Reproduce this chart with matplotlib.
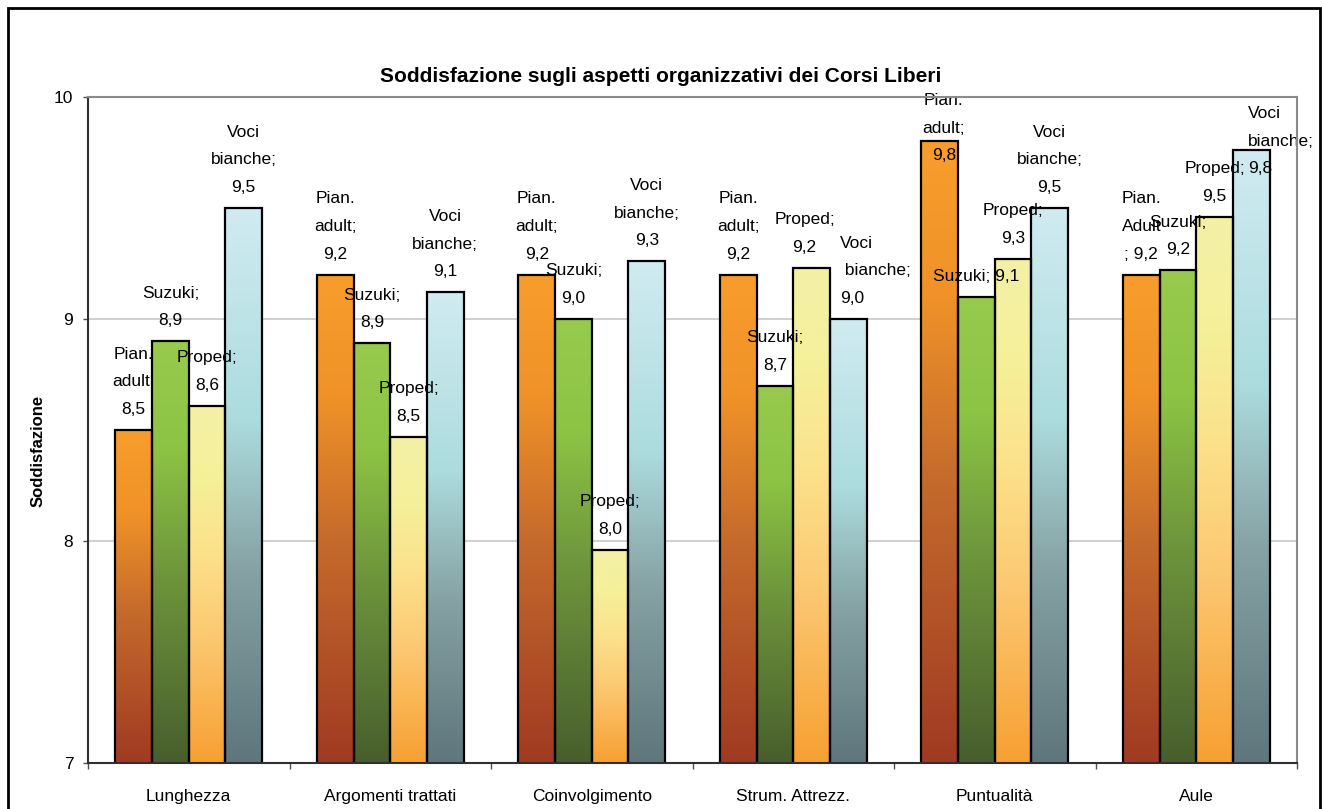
import matplotlib
matplotlib.use("Agg")
import matplotlib.pyplot as plt
import numpy as np
from matplotlib.colors import LinearSegmentedColormap
from matplotlib.patches import Rectangle

plt.rcParams['font.family'] = ['Liberation Sans', 'DejaVu Sans']

# ---------------- data ----------------
categories = ["Lunghezza", "Argomenti trattati", "Coinvolgimento",
              "Strum. Attrezz.", "Puntualità", "Aule"]
series_names = ["Pian. adult", "Suzuki", "Proped", "Voci bianche"]
pian_adult = [8.50, 9.20, 9.20, 9.20, 9.80, 9.20]
suzuki = [8.90, 8.89, 9.00, 8.70, 9.10, 9.22]
proped = [8.61, 8.47, 7.96, 9.23, 9.27, 9.46]
voci_bianche = [9.50, 9.12, 9.26, 9.00, 9.50, 9.76]
y_ticks = [7, 8, 9, 10]
title = "Soddisfazione sugli aspetti organizzativi dei Corsi Liberi"
y_label = "Soddisfazione"

# label prefixes (as wrapped in the original)
label_prefix = ["Pian.\nadult;\n", "Suzuki;\n", "Proped;\n", "Voci\nbianche;\n"]
label_prefix_override = {(0, 5): "Pian.\nAdult\n; ",
                         (1, 4): "Suzuki; ",
                         (3, 3): "Voci\n bianche;\n"}

# ---------------- style ----------------
grad_stops = [
    [(0.0, "#A03A22"), (0.45, "#C46A2C"), (0.75, "#F09228"), (1.0, "#F89D2D")],
    [(0.0, "#485E2D"), (0.45, "#6E963C"), (0.75, "#8DC444"), (1.0, "#97CA4D")],
    [(0.0, "#F7A032"), (0.35, "#FCC872"), (0.6, "#FCE28C"), (0.8, "#F5F09A"), (1.0, "#F3F0A6")],
    [(0.0, "#5E767C"), (0.35, "#86A2A4"), (0.62, "#ACDCDE"), (1.0, "#D0EBF1")],
]
# label offsets in pixels (dx, dy) relative to default, and alignment
label_adjust = {(0, 4): (4, -35, 'center'),
                (2, 3): (-7, 0, 'center'),
                (3, 3): (-8, 0, 'left'),
                (3, 5): (-3.5, -39, 'left')}

W, H = 1322, 809
fig = plt.figure(figsize=(W / 100, H / 100), dpi=100)
ax = fig.add_axes([88 / W, (H - 763) / H, (1297 - 88) / W, (763 - 97) / H])

data = [pian_adult, suzuki, proped, voci_bianche]
n_ser = len(data)
bw = 1 / (n_ser + 1.5)
x = np.arange(len(categories))

for i, vals in enumerate(data):
    xs = x + (i - (n_ser - 1) / 2) * bw
    bars = ax.bar(xs, vals, width=bw, facecolor='none', edgecolor='black',
                  linewidth=1.6, zorder=4)
    cmap = LinearSegmentedColormap.from_list(f"g{i}", grad_stops[i])
    grad = np.linspace(0, 1, 256).reshape(-1, 1)
    for b, v in zip(bars, vals):
        x0 = b.get_x()
        ax.imshow(grad, cmap=cmap, origin='lower', aspect='auto',
                  extent=(x0, x0 + b.get_width(), y_ticks[0], v),
                  interpolation='bilinear', zorder=3)

ax.set_xlim(-0.5, len(categories) - 0.5)
ax.set_ylim(y_ticks[0], y_ticks[-1])

# data labels
for i, vals in enumerate(data):
    xs = x + (i - (n_ser - 1) / 2) * bw
    for j, v in enumerate(vals):
        pre = label_prefix_override.get((i, j), label_prefix[i])
        txt = pre + f"{v:.1f}".replace(".", ",")
        dx, dy, ha = label_adjust.get((i, j), (0, 0, 'center'))
        ax.annotate(txt, xy=(xs[j], v), xytext=(dx, 13 + dy),
                    textcoords='offset pixels', ha=ha, va='bottom',
                    multialignment=ha, fontsize=12.5, linespacing=2.05,
                    color='black', zorder=6, annotation_clip=False)

# grid & spines
ax.set_yticks(y_ticks)
ax.set_yticklabels([str(t) for t in y_ticks])
for t in y_ticks[1:-1]:
    ax.axhline(t, color='#C8C8C8', linewidth=1.2, zorder=1)
ax.spines['top'].set_color('#8A8A8A')
ax.spines['right'].set_color('#8A8A8A')
ax.spines['top'].set_linewidth(1.5)
ax.spines['right'].set_linewidth(1.5)
ax.spines['left'].set_color('#303030')
ax.spines['bottom'].set_color('#303030')
ax.spines['left'].set_linewidth(1.5)
ax.spines['bottom'].set_linewidth(1.5)
for s in ax.spines.values():
    s.set_zorder(7)

ax.set_xticks(x)
ax.set_xticklabels(categories)
ax.set_xticks(np.arange(-0.5, len(categories)), minor=True)
ax.tick_params(axis='x', which='major', length=0, pad=19, labelsize=12.5)
ax.tick_params(axis='x', which='minor', length=4.5, width=1.0, color='#505050',
               direction='out')
ax.tick_params(axis='y', length=3.6, width=1.0, color='#505050', pad=7,
               labelsize=12.5)

fig.text(0.5, 1 - 77 / H, title, ha='center', va='center',
         fontsize=15, fontweight='bold')
fig.text(38 / W, 1 - 451 / H, y_label, ha='center', va='center', rotation=90,
         fontsize=12, fontweight='bold')

# outer chart border
fig.patches.append(Rectangle((8 / W, -0.05), (1320 - 8) / W, (H - 8) / H + 0.05,
                             transform=fig.transFigure, fill=False,
                             edgecolor='black', linewidth=2.0, zorder=10))

fig.savefig("out.png", dpi=100)
